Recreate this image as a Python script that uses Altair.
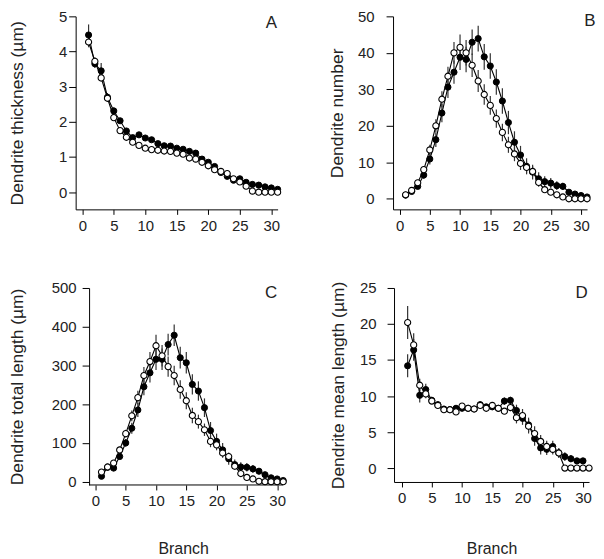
import altair as alt
import pandas as pd

FONT = "Liberation Sans"
x_ticks = [0, 5, 10, 15, 20, 25, 30]

# Panel A: dendrite thickness (um)
A_fill = [4.47, 3.65, 3.45, 2.70, 2.31, 2.03, 1.74, 1.55, 1.63, 1.54, 1.49, 1.38, 1.32, 1.31, 1.25,
          1.22, 1.16, 1.11, 0.94, 0.85, 0.73, 0.56, 0.45, 0.34, 0.38, 0.28, 0.22, 0.20, 0.15, 0.12, 0.08]
A_fill_se = [0.30, 0.12, 0.22, 0.12, 0.10, 0.08, 0.07, 0.06, 0.06, 0.05, 0.05, 0.05, 0.05, 0.05, 0.05,
             0.05, 0.05, 0.05, 0.05, 0.05, 0.05, 0.05, 0.05, 0.05, 0.05, 0.04, 0.04, 0.04, 0.03, 0.03, 0.03]
A_open = [4.27, 3.72, 3.25, 2.67, 2.12, 1.75, 1.56, 1.42, 1.33, 1.25, 1.21, 1.19, 1.17, 1.16, 1.11,
          1.08, 0.97, 0.94, 0.85, 0.75, 0.64, 0.59, 0.53, 0.38, 0.29, 0.17, 0.03, 0.0, 0.0, 0.0, 0.0]
A_open_se = [0.15, 0.12, 0.10, 0.08, 0.07, 0.06, 0.05, 0.05, 0.05, 0.05, 0.04, 0.04, 0.04, 0.04, 0.04,
             0.04, 0.04, 0.04, 0.04, 0.04, 0.04, 0.04, 0.04, 0.04, 0.03, 0.03, 0.02, 0.0, 0.0, 0.0, 0.0]

# Panel B: dendrite number
B_fill = [1.0, 2.0, 3.4, 6.5, 10.9, 16.2, 23.5, 30.6, 34.7, 38.8, 38.2, 42.9, 43.9, 38.9, 36.4,
          32.0, 26.8, 20.9, 15.5, 12.0, 8.9, 7.3, 5.5, 4.7, 4.3, 3.6, 3.4, 1.8, 1.3, 0.9, 0.5]
B_fill_se = [0.3, 0.4, 0.6, 1.0, 1.5, 2.0, 2.5, 3.0, 3.2, 3.5, 3.5, 3.5, 3.5, 3.5, 3.5,
             3.5, 3.5, 3.2, 3.0, 2.5, 2.2, 2.0, 1.8, 1.5, 1.4, 1.2, 1.0, 0.8, 0.6, 0.5, 0.3]
B_open = [1.1, 2.3, 4.4, 8.0, 13.4, 20.0, 27.3, 33.6, 40.0, 41.5, 40.0, 36.6, 32.3, 28.6, 25.6,
          22.0, 18.2, 14.8, 12.3, 9.7, 8.6, 7.5, 4.5, 2.5, 1.8, 1.1, 0.5, 0.0, 0.0, 0.0, 0.0]
B_open_se = [0.3, 0.4, 0.6, 1.0, 1.4, 1.8, 2.2, 2.6, 3.0, 3.5, 3.5, 3.2, 3.0, 2.8, 2.6,
             2.5, 2.4, 2.2, 2.0, 1.8, 1.6, 1.4, 1.2, 0.8, 0.6, 0.4, 0.2, 0.0, 0.0, 0.0, 0.0]

# Panel C: dendrite total length (um)
C_fill = [14, 37, 35, 65, 100, 138, 185, 245, 281, 316, 316, 354, 378, 320, 307,
          251, 234, 191, 132, 104, 82, 59, 44, 38, 37, 33, 27, 18, 10, 7, 3]
C_fill_se = [4, 6, 6, 8, 10, 14, 18, 22, 25, 28, 28, 28, 28, 28, 28,
             26, 25, 24, 22, 20, 18, 15, 13, 12, 11, 10, 8, 6, 5, 4, 3]
C_open = [25, 38, 48, 82, 124, 170, 217, 274, 310, 351, 325, 297, 274, 238, 209,
          171, 155, 134, 104, 95, 74, 65, 40, 21, 11, 7, 1, 0, 0, 0, 0]
C_open_se = [4, 6, 6, 8, 10, 14, 18, 22, 25, 28, 28, 26, 25, 24, 22,
             20, 18, 16, 15, 14, 12, 10, 8, 6, 4, 3, 1, 0, 0, 0, 0]

# Panel D: dendrite mean length (um)
D_fill = [14.2, 16.4, 10.1, 10.9, 9.4, 8.8, 8.2, 8.1, 8.3, 8.3, 8.3, 8.2, 8.8, 8.5, 8.5,
          8.3, 9.3, 9.4, 8.0, 6.9, 6.0, 4.1, 2.8, 2.6, 3.0, 2.1, 1.6, 1.3, 1.0, 1.0]
D_fill_se = [1.6, 1.5, 1.0, 0.8, 0.5, 0.4, 0.4, 0.4, 0.4, 0.4, 0.4, 0.4, 0.4, 0.4, 0.4,
             0.4, 0.5, 0.5, 0.8, 0.9, 1.0, 1.0, 0.9, 0.8, 0.8, 0.7, 0.6, 0.5, 0.4, 0.4]
D_open = [20.2, 17.1, 11.5, 10.3, 9.3, 8.7, 8.1, 8.1, 7.8, 8.6, 8.3, 8.2, 8.7, 8.3, 8.7,
          8.3, 7.9, 8.4, 7.0, 7.3, 5.8, 4.8, 3.7, 3.0, 2.6, 2.1, 0.0, 0.0, 0.0, 0.0, 0.0]
D_open_se = [2.3, 1.6, 0.9, 0.6, 0.4, 0.3, 0.3, 0.3, 0.3, 0.3, 0.3, 0.3, 0.3, 0.3, 0.3,
             0.3, 0.4, 0.5, 0.8, 0.9, 1.0, 1.0, 0.9, 0.8, 0.7, 0.6, 0.0, 0.0, 0.0, 0.0, 0.0]


def make_df(fill, fill_se, opn, opn_se):
    rows = []
    for grp, vals, ses in (("filled", fill, fill_se), ("open", opn, opn_se)):
        for i, (v, e) in enumerate(zip(vals, ses)):
            rows.append({"branch": i + 1, "value": v, "lo": v - e, "hi": v + e, "group": grp})
    return pd.DataFrame(rows)


def panel(df, xdom, width, ydom, height, yvals, ytitle, letter, lx, ly,
          ytick, ylabpad, ytitlex, xtitle=None, yoffset=0, xline_from=None):
    xs = alt.Scale(domain=xdom, nice=False, zero=False)
    ys = alt.Scale(domain=ydom, nice=False, zero=False)
    xkw = dict(values=x_ticks, tickCount=20, format="d", tickSize=5, labelPadding=4,
               labelFlush=False, labelOverlap=False)
    if xtitle:
        xkw.update(title="Branch", titlePadding=xtitle[0])
        if xtitle[1] is not False:
            xkw.update(titleX=xtitle[1])
    else:
        xkw.update(title=None)
    if xline_from is not None:
        xkw.update(domain=False)
    xaxis = alt.Axis(**xkw)
    ykw = dict(values=yvals, tickCount=20, format="d", title=ytitle, tickSize=ytick,
               labelPadding=ylabpad, titleX=ytitlex, labelFlush=False,
               labelOverlap=False, titleFontSize=17.5)
    if yoffset:
        ykw.update(offset=yoffset)
    yaxis = alt.Axis(**ykw)
    base = alt.Chart(df)
    X = alt.X("branch:Q", scale=xs, axis=xaxis)
    err = base.mark_rule(color="#333333", strokeWidth=1.2).encode(
        x=X, y=alt.Y("lo:Q", scale=ys, axis=yaxis), y2="hi:Q")
    line = base.mark_line(color="black", strokeWidth=1.1).encode(
        x=X, y=alt.Y("value:Q", scale=ys, axis=yaxis), detail="group:N")
    pf = base.transform_filter(alt.datum.group == "filled").mark_point(
        shape="circle", filled=True, fill="black", stroke="black", strokeWidth=1,
        size=38, opacity=1).encode(x=X, y=alt.Y("value:Q", scale=ys, axis=yaxis))
    po = base.transform_filter(alt.datum.group == "open").mark_point(
        shape="circle", filled=True, fill="white", stroke="black", strokeWidth=1.1,
        size=38, opacity=1).encode(x=X, y=alt.Y("value:Q", scale=ys, axis=yaxis))
    lab = alt.Chart(pd.DataFrame({"t": [letter]})).mark_text(
        align="right", baseline="alphabetic", fontSize=17, font=FONT, color="#222222").encode(
        x=alt.datum(lx), y=alt.datum(ly), text="t:N")
    layers = [err, line, pf, po, lab]
    if xline_from is not None:
        axline = alt.Chart(pd.DataFrame({"t": [0]})).mark_rule(
            color="black", strokeWidth=1).encode(
            x=alt.datum(xline_from), x2=alt.datum(xdom[1]), y=alt.datum(ydom[0]))
        layers.append(axline)
    return alt.layer(*layers).properties(width=width, height=height)


pA = panel(make_df(A_fill, A_fill_se, A_open, A_open_se), [-1.05, 31], 203, [-0.49, 5], 194,
           [0, 1, 2, 3, 4, 5], "Dendrite thickness (µm)", "A", 30.9, 4.68, 7, 2, -49.5)
pB = panel(make_df(B_fill, B_fill_se, B_open, B_open_se), [-1.08, 31], 195, [-2.9, 50], 194,
           [0, 10, 20, 30, 40, 50], "Dendrite number", "B", 32.4, 47.3, 7, 12, -47)
pC = panel(make_df(C_fill, C_fill_se, C_open, C_open_se), [-3.27, 31], 208.6, [-8.5, 500], 198,
           [0, 100, 200, 300, 400, 500], "Dendrite total length (µm)", "C", 30.0, 474, 7, 6, -63,
           xtitle=(32, 108), yoffset=-13.5, xline_from=-1.05)
pD = panel(make_df(D_fill, D_fill_se, D_open, D_open_se), [-1.25, 31], 196, [-1.93, 25], 195,
           [0, 5, 10, 15, 20, 25], "Dendrite mean length (µm)", "D", 30.8, 23.66, 7, 11, -47,
           xtitle=(35, False))

chart = alt.concat(pA, pB, pC, pD, columns=2, align="none",
                   spacing=alt.RowColnumber(row=48, column=40)).properties(
    padding=0).configure_view(stroke=None).configure_axis(
    grid=False, domainColor="black", tickColor="black", domainWidth=1, tickWidth=1,
    labelColor="#222222", titleColor="#222222", labelFont=FONT, titleFont=FONT,
    labelFontSize=15, titleFontSize=16, titleFontWeight="normal")

chart.save("out.html", embed_options={"renderer": "svg", "actions": False})
